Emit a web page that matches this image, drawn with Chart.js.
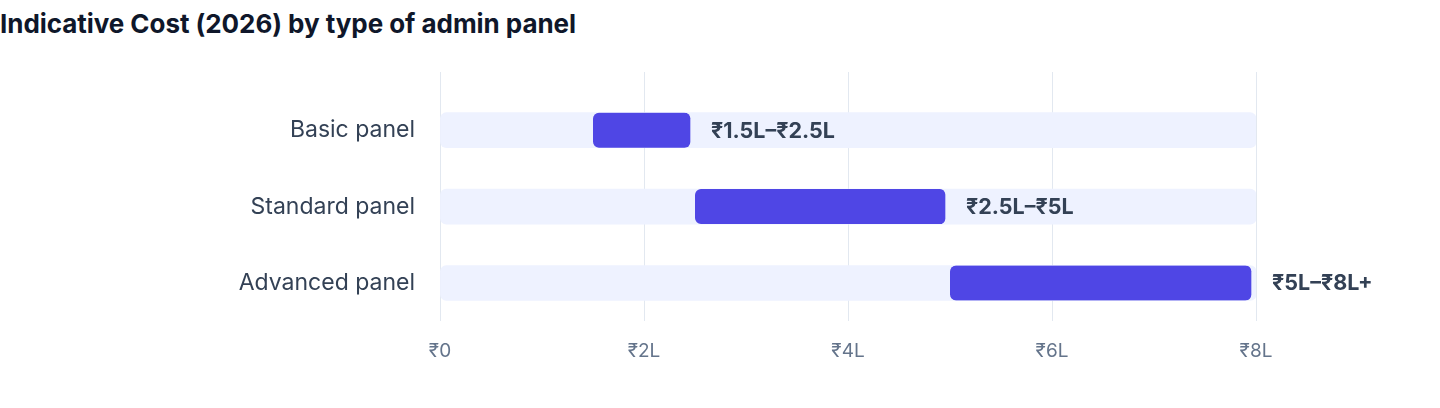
<!DOCTYPE html>
<html>
<head>
<meta charset="utf-8">
<title>Indicative Cost (2026) by type of admin panel</title>
<script src="https://cdn.jsdelivr.net/npm/chart.js@4.4.1/dist/chart.umd.min.js"></script>
<style>
      html, body { margin: 0; padding: 0; background: #ffffff; }
      #wrap { position: relative; width: 1440px; height: 408px; }
      #chart_title {
            position: absolute; left: 0; top: 8px;
            font-family: Inter, 'Liberation Sans', sans-serif;
            font-weight: 700; font-size: 26px; color: #0f172a;
            letter-spacing: -0.05px;
      }
      #cost_chart { position: absolute; left: 0; top: 0; }
</style>
</head>
<body>
<div id="wrap">
      <div id="chart_title">Indicative Cost (2026) by type of admin panel</div>
      <canvas id="cost_chart" width="1440" height="408"></canvas>
</div>
<script>
// values in lakh rupees
const categories = ['Basic panel', 'Standard panel', 'Advanced panel'];
const rangeStart = [1.5, 2.5, 5];
const rangeEnd = [2.5, 5, 8];
const trackMax = [8, 8, 8];
const rangeLabels = ['₹1.5L–₹2.5L', '₹2.5L–₹5L', '₹5L–₹8L+'];
const axisMax = 8;
const axisStep = 2;

const gridColor = '#e2e8f0';
const fontFamily = 'Inter, "Liberation Sans", sans-serif';

function tickLabel(v)
{
      return v === 0 ? '₹0' : '₹' + v + 'L';
}

const rangeValueLabels = {
      id: 'rangeValueLabels',
      afterDatasetsDraw(chart)
      {
            const ctx = chart.ctx;
            const x = chart.scales.x;
            const y = chart.scales.y;
            ctx.save();
            ctx.font = '700 21.5px ' + fontFamily;
            ctx.fillStyle = '#334155';
            ctx.textAlign = 'left';
            ctx.textBaseline = 'middle';
            for (let i = 0; i < categories.length; i++)
            {
                  ctx.fillText(rangeLabels[i], x.getPixelForValue(rangeEnd[i]) + 16, y.getPixelForValue(i) + 1);
            }
            ctx.restore();
      }
};

const config = {
      type: 'bar',
      data: {
            labels: categories,
            datasets: [
                  {
                        label: 'Cost range',
                        data: rangeStart.map((s, i) => [s, rangeEnd[i]]),
                        backgroundColor: '#4f46e5',
                        borderColor: 'rgba(0,0,0,0)',
                        borderWidth: { top: 0, right: 5, bottom: 0, left: 0 },
                        borderSkipped: false,
                        borderRadius: { topLeft: 6, bottomLeft: 6, topRight: 11, bottomRight: 11 },
                        barThickness: 35,
                        grouped: false,
                        order: 0
                  },
                  {
                        label: 'Track',
                        data: trackMax.map(m => [0, m]),
                        backgroundColor: '#eef2ff',
                        borderWidth: 0,
                        borderSkipped: false,
                        borderRadius: 6,
                        barThickness: 35,
                        grouped: false,
                        order: 1
                  }
            ]
      },
      options: {
            indexAxis: 'y',
            responsive: false,
            animation: false,
            layout: {
                  padding: { top: 72, right: 184, bottom: 26, left: 0 }
            },
            scales: {
                  x: {
                        min: 0,
                        max: axisMax,
                        border: { display: false },
                        grid: { color: gridColor, lineWidth: 1, drawTicks: false },
                        ticks: {
                              stepSize: axisStep,
                              padding: 19,
                              color: '#64748b',
                              font: { family: fontFamily, size: 19 },
                              callback: tickLabel
                        }
                  },
                  xTop: {
                        type: 'linear',
                        position: 'top',
                        axis: 'x',
                        min: 0,
                        max: axisMax,
                        display: true,
                        border: { display: false },
                        grid: { color: gridColor, lineWidth: 1, drawOnChartArea: false, drawTicks: true, tickLength: 20 },
                        ticks: { display: false, stepSize: axisStep }
                  },
                  y: {
                        border: { display: false },
                        grid: { display: false, drawTicks: false },
                        ticks: {
                              padding: 25,
                              color: '#334155',
                              font: { family: fontFamily, size: 23 }
                        },
                        afterFit: function (scale)
                        {
                              scale.width = 440;
                        }
                  }
            },
            plugins: {
                  legend: { display: false },
                  tooltip: { enabled: false },
                  title: { display: false }
            }
      },
      plugins: [rangeValueLabels]
};

new Chart(document.getElementById('cost_chart'), config);
</script>
</body>
</html>
